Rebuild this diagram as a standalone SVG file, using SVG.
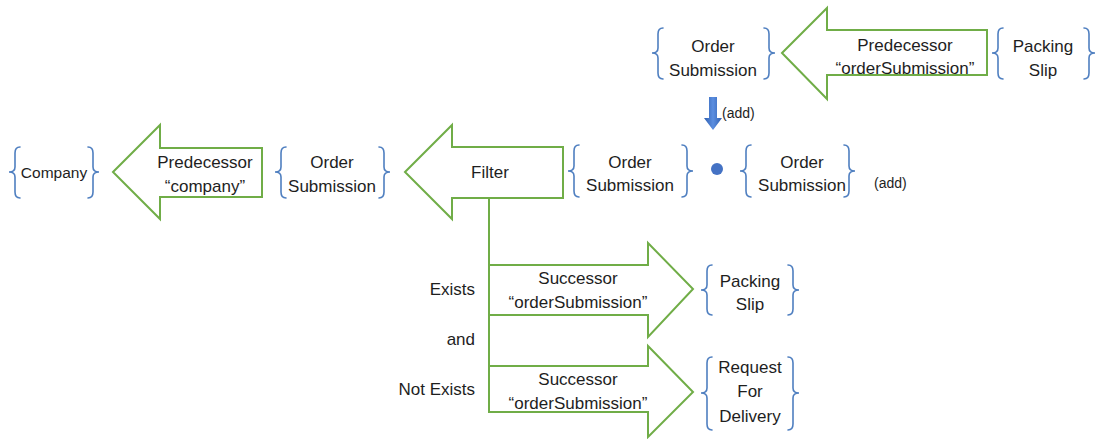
<svg xmlns="http://www.w3.org/2000/svg" width="1098" height="439" viewBox="0 0 1098 439">
<defs>
<style>
text{font-family:"Liberation Sans",Arial,sans-serif;font-size:17px;fill:#1e1e1e;text-anchor:middle}
.r{text-anchor:end}
.s{font-size:14px;text-anchor:start}
.br{fill:none;stroke:#4f7fc0;stroke-width:1.6;stroke-linecap:round}
.ar{fill:#fff;stroke:#70ad47;stroke-width:2;stroke-linejoin:miter}
.ln{fill:none;stroke:#70ad47;stroke-width:2}
</style>
<linearGradient id="bg" x1="0" y1="0" x2="1" y2="0">
<stop offset="0" stop-color="#2f5fb0"/><stop offset="0.5" stop-color="#5b8ee0"/><stop offset="1" stop-color="#2f5fb0"/>
</linearGradient>
</defs>
<rect width="1098" height="439" fill="#fff"/>

<g id="connectors">
<polygon class="ar" points="782,53 827,8 827,30 987,30 987,75 827,75 827,99"/>
<polygon class="ar" points="113,172 160,125 160,148 262,148 262,197 160,197 160,219"/>
<polygon class="ar" points="405,172 452,125 452,147 563,147 563,198 452,198 452,219"/>
<polygon class="ar" points="489,265 648,265 648,243 693,289 648,337 648,315 489,315"/>
<polygon class="ar" points="489,366 648,366 648,346 693,392 648,437 648,412 489,412"/>
<line class="ln" x1="489" y1="198" x2="489" y2="412"/>
<path d="M709,97 H717 V118 H722 L713,130 L704,118 H709 Z" fill="url(#bg)"/>
<circle cx="717" cy="169" r="6" fill="#4472c4"/>
</g>

<g id="lbl-pred-os">
<text x="905" y="51">Predecessor</text>
<text x="905" y="74">“orderSubmission”</text>
</g>
<g id="lbl-pred-company">
<text x="205" y="168">Predecessor</text>
<text x="205" y="192">“company”</text>
</g>
<g id="lbl-filter"><text x="490" y="178">Filter</text></g>
<g id="lbl-succ1">
<text x="578" y="284">Successor</text>
<text x="578" y="308">“orderSubmission”</text>
</g>
<g id="lbl-succ2">
<text x="578" y="385">Successor</text>
<text x="578" y="409">“orderSubmission”</text>
</g>
<g id="lbl-conds">
<text class="r" x="475" y="295">Exists</text>
<text class="r" x="475" y="345">and</text>
<text class="r" x="475" y="395">Not Exists</text>
</g>
<g id="lbl-add">
<text class="s" x="722" y="118">(add)</text>
<text class="s" x="874" y="188">(add)</text>
</g>

<g id="node-os-top">
<path class="br" d="M663,28 Q658,28 658,34 L658,48 Q658,53 652,53 Q658,53 658,58 L658,73 Q658,79 663,79"/>
<path class="br" d="M764,28 Q769,28 769,34 L769,48 Q769,53 775,53 Q769,53 769,58 L769,73 Q769,79 764,79"/>
<text x="713" y="52">Order</text>
<text x="713" y="76">Submission</text>
</g>
<g id="node-ps-top">
<path class="br" d="M1003,28 Q998,28 998,34 L998,48 Q998,53 992,53 Q998,53 998,58 L998,73 Q998,79 1003,79"/>
<path class="br" d="M1084,28 Q1089,28 1089,34 L1089,48 Q1089,53 1095,53 Q1089,53 1089,58 L1089,73 Q1089,79 1084,79"/>
<text x="1043" y="52">Packing</text>
<text x="1043" y="76">Slip</text>
</g>
<g id="node-company">
<path class="br" d="M20,147 Q15,147 15,153 L15,167 Q15,172 9,172 Q15,172 15,177 L15,192 Q15,198 20,198"/>
<path class="br" d="M88,147 Q93,147 93,153 L93,167 Q93,172 99,172 Q93,172 93,177 L93,192 Q93,198 88,198"/>
<text x="54" y="178" style="font-size:15.5px">Company</text>
</g>
<g id="node-os-left">
<path class="br" d="M286,147 Q281,147 281,153 L281,167 Q281,172 275,172 Q281,172 281,177 L281,192 Q281,198 286,198"/>
<path class="br" d="M379,147 Q384,147 384,153 L384,167 Q384,172 390,172 Q384,172 384,177 L384,192 Q384,198 379,198"/>
<text x="332" y="168">Order</text>
<text x="332" y="192">Submission</text>
</g>
<g id="node-os-mid">
<path class="br" d="M579,145 Q574,145 574,151 L574,166 Q574,171 568,171 Q574,171 574,176 L574,191 Q574,197 579,197"/>
<path class="br" d="M682,145 Q687,145 687,151 L687,166 Q687,171 693,171 Q687,171 687,176 L687,191 Q687,197 682,197"/>
<text x="630" y="168">Order</text>
<text x="630" y="191">Submission</text>
</g>
<g id="node-os-right">
<path class="br" d="M751,145 Q746,145 746,151 L746,166 Q746,171 740,171 Q746,171 746,176 L746,191 Q746,197 751,197"/>
<path class="br" d="M844,145 Q849,145 849,151 L849,166 Q849,171 855,171 Q849,171 849,176 L849,191 Q849,197 844,197"/>
<text x="802" y="168">Order</text>
<text x="802" y="191">Submission</text>
</g>
<g id="node-ps-bottom">
<path class="br" d="M712,265 Q707,265 707,271 L707,285 Q707,290 701,290 Q707,290 707,295 L707,309 Q707,315 712,315"/>
<path class="br" d="M788,265 Q793,265 793,271 L793,285 Q793,290 799,290 Q793,290 793,295 L793,309 Q793,315 788,315"/>
<text x="750" y="287">Packing</text>
<text x="750" y="310">Slip</text>
</g>
<g id="node-rfd">
<path class="br" d="M712,357 Q707,357 707,363 L707,388 Q707,393 701,393 Q707,393 707,398 L707,424 Q707,430 712,430"/>
<path class="br" d="M788,357 Q793,357 793,363 L793,388 Q793,393 799,393 Q793,393 793,398 L793,424 Q793,430 788,430"/>
<text x="750" y="373">Request</text>
<text x="750" y="397">For</text>
<text x="750" y="422">Delivery</text>
</g>
</svg>
